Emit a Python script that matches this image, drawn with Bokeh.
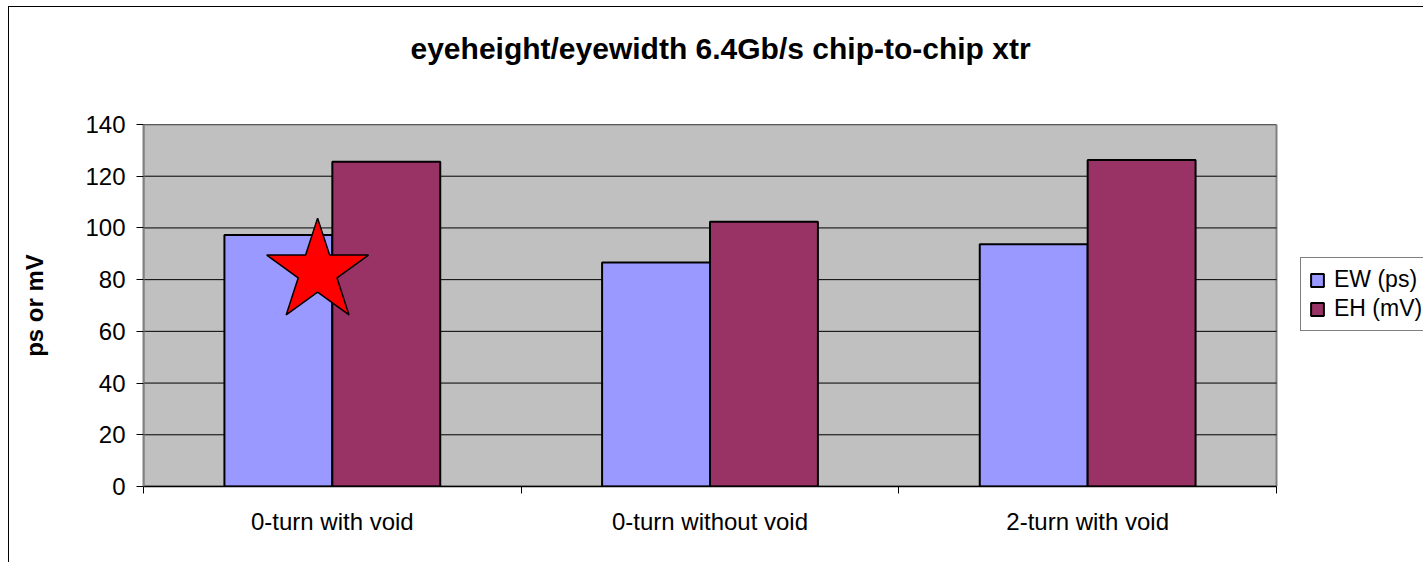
import numpy as np
from bokeh.plotting import figure
from bokeh.models import (Range1d, FixedTicker, Legend, LegendItem,
                          Title, ColumnDataSource, InlineStyleSheet)
from bokeh.embed import file_html
from bokeh.resources import INLINE

# --- data -------------------------------------------------------------
categories = ["0-turn with void", "0-turn without void", "2-turn with void"]
series_names = ["EW (ps)", "EH (mV)"]
ew_ps = [97.3, 86.6, 93.7]       # eye width, ps
eh_mv = [125.6, 102.4, 126.3]    # eye height, mV
y_ticks = [0, 20, 40, 60, 80, 100, 120, 140]
y_max = 140
chart_title = "eyeheight/eyewidth 6.4Gb/s chip-to-chip xtr"

# highlighted configuration (star marker)
star_category = 0
star_value = 83.1

# --- layout constants ---------------------------------------------------
W, H = 1423, 562
PLOT_L, PLOT_R = 143, 1276      # pixel extent of the grey plot area
FONT = "Liberation Sans"
bar_w = 1 / 3.5                 # two bars + 150% gap per category
ew_off = 0.5 - bar_w / 2
eh_off = 0.5 + bar_w / 2
star_off = 0.461
n = len(categories)

# the frame runs to the right edge so the legend can sit beside the plot area
x_end = n * (W - PLOT_L) / (PLOT_R - PLOT_L)

p = figure(width=W, height=H, output_backend="svg", toolbar_location=None,
           x_range=Range1d(0, x_end), y_range=Range1d(0, y_max),
           min_border_left=PLOT_L, min_border_right=0,
           min_border_top=124, min_border_bottom=76)

p.background_fill_color = "white"
p.border_fill_color = "white"
p.outline_line_color = None
p.title.text = ""

# blank strip between plot area and title
p.add_layout(Title(text=" ", standoff=27, text_font_size="1px"), "above")

# title
p.add_layout(Title(text=chart_title, align="left", offset=267, vertical_align="top",
                   standoff=56, text_font=FONT, text_font_style="bold",
                   text_font_size="30px", text_color="black"), "above")

p.grid.visible = False

# grey plot area with its border
p.quad(left=[0], right=[n], bottom=[0], top=[y_max],
       fill_color="#C0C0C0", line_color="#808080", line_width=2)

# horizontal grid lines
p.segment(x0=[0] * len(y_ticks), x1=[n] * len(y_ticks), y0=y_ticks, y1=y_ticks,
          line_color="black", line_width=1)

# y axis
yax = p.yaxis[0]
yax.ticker = FixedTicker(ticks=y_ticks)
yax.axis_label = "ps or mV"
yax.axis_label_text_font = FONT
yax.axis_label_text_font_style = "bold"
yax.axis_label_text_font_size = "24px"
yax.axis_label_text_color = "black"
yax.axis_label_standoff = 34
yax.major_label_text_font = FONT
yax.major_label_text_font_size = "24px"
yax.major_label_text_color = "black"
yax.major_label_standoff = 11
yax.major_tick_out = 7
yax.major_tick_in = 0
yax.minor_tick_line_color = None
yax.major_tick_line_color = "black"
yax.axis_line_color = "#808080"
yax.axis_line_width = 2

# x axis: category names centred, tick marks on category boundaries
centers = [i + 0.5 for i in range(n)]
xax = p.below[0]
xax.bounds = (0, n)
xax.ticker = FixedTicker(ticks=centers, minor_ticks=list(range(n + 1)))
xax.major_label_overrides = {c: name for c, name in zip(centers, categories)}
xax.major_tick_out = 0
xax.major_tick_in = 0
xax.minor_tick_out = 7
xax.minor_tick_in = 0
xax.minor_tick_line_color = "black"
xax.axis_line_color = "black"
xax.axis_line_width = 1.5
xax.major_label_text_font = FONT
xax.major_label_text_font_size = "24px"
xax.major_label_text_color = "black"
xax.major_label_standoff = 14

# bars
x = np.arange(n)
src = ColumnDataSource(dict(x_ew=x + ew_off, x_eh=x + eh_off, ew=ew_ps, eh=eh_mv))
r_ew = p.vbar(x="x_ew", top="ew", bottom=0, width=bar_w, source=src,
              fill_color="#9999FF", line_color="black", line_width=2)
r_eh = p.vbar(x="x_eh", top="eh", bottom=0, width=bar_w, source=src,
              fill_color="#993366", line_color="black", line_width=2)

# star on the chosen configuration
p.scatter(x=[star_category + star_off], y=[star_value], marker="star", size=107,
          fill_color="#FF0000", line_color="black", line_width=1.5)

# legend beside the plot area
legend = Legend(items=[LegendItem(label=series_names[0], renderers=[r_ew]),
                       LegendItem(label=series_names[1], renderers=[r_eh])],
                location=(1300 - PLOT_L, 155), orientation="vertical",
                border_line_color="black", border_line_width=1,
                background_fill_color="white", background_fill_alpha=1,
                label_text_font=FONT, label_text_font_size="23px",
                label_text_color="black",
                glyph_width=16, glyph_height=16, label_standoff=9,
                label_height=26, padding=8, spacing=2, margin=0)
p.add_layout(legend)

# chart-area frame around the whole figure
p.stylesheets = [InlineStyleSheet(css="""
:host { position: relative; }
:host::after {
  content: '';
  position: absolute;
  left: 8px; top: 6px; right: 0; bottom: 0;
  border-left: 1.5px solid #000;
  border-top: 1.5px solid #000;
  pointer-events: none;
  z-index: 10;
}
""")]

open("out.html", "w").write(file_html(p, INLINE))
